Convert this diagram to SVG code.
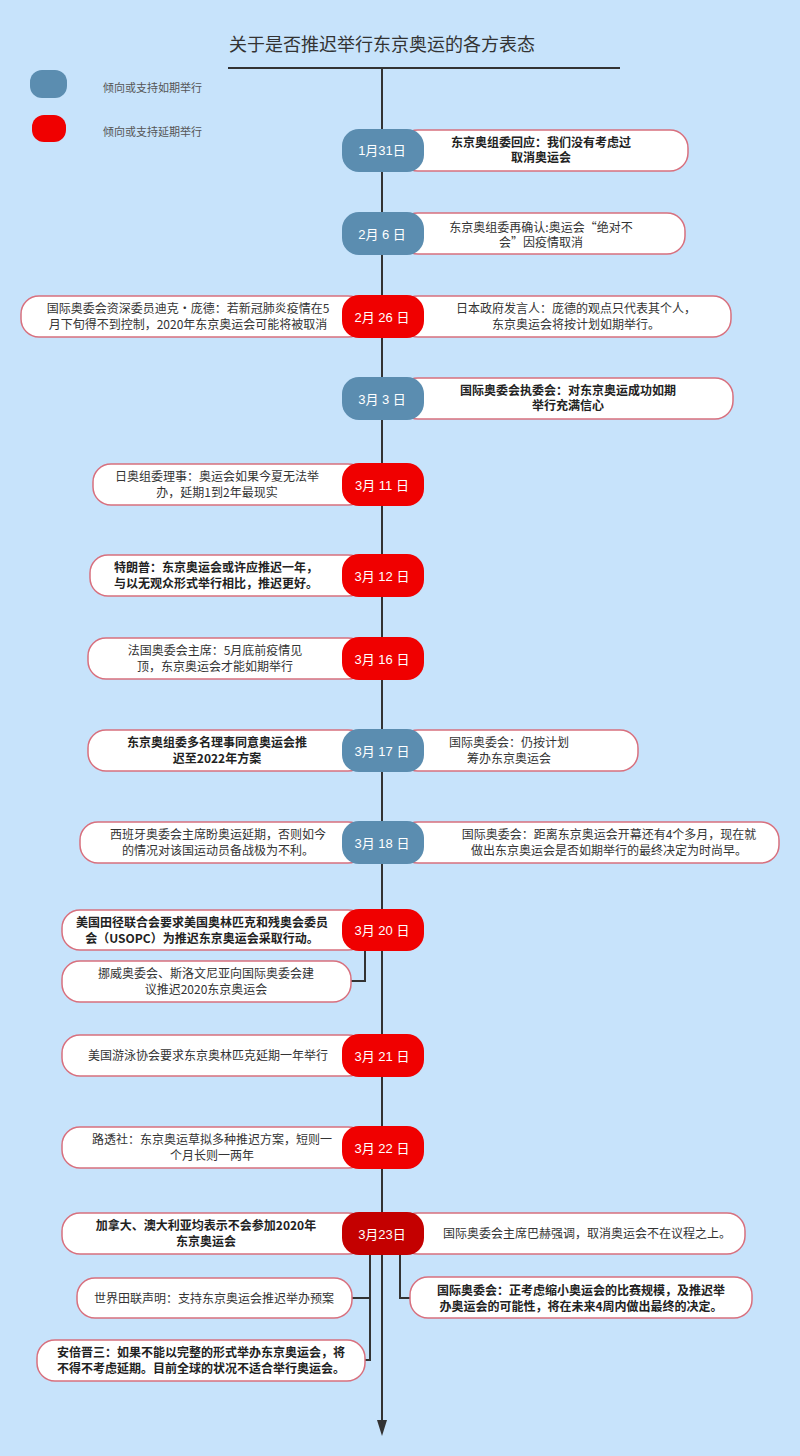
<svg xmlns="http://www.w3.org/2000/svg" width="800" height="1456" viewBox="0 0 800 1456">
<style>
text{font-family:"Noto Sans CJK SC","Liberation Sans",sans-serif;font-size:12px;fill:#333;text-anchor:middle}
.b{font-weight:bold;fill:#222}
.box{fill:#fff;stroke:#d8707e;stroke-width:1.5}
.blue{fill:#5b8db0}.red{fill:#f00000}.dred{fill:#c40000}
.d{fill:#fff;font-size:13px;font-family:"Liberation Sans","Noto Sans CJK SC",sans-serif}
.c{fill:none;stroke:#333;stroke-width:2}
.lg{text-anchor:start;font-size:11px;fill:#555}
</style>
<defs><marker id="ar" markerWidth="10" markerHeight="12" refX="5" refY="10" orient="auto" markerUnits="userSpaceOnUse"><path d="M0,0 L10,0 L5,12 Z" fill="#333" transform="rotate(0)"/></marker></defs>
<rect width="800" height="1456" fill="#c7e3fb"/>
<text x="382" y="51" style="font-size:18px;fill:#333">关于是否推迟举行东京奥运的各方表态</text>
<g id="legend">
<rect x="30" y="70" width="37" height="28" rx="12" class="blue"/><text x="103" y="92" class="lg">倾向或支持如期举行</text>
<rect x="32" y="115" width="34" height="27" rx="12" class="red"/><text x="103" y="136" class="lg">倾向或支持延期举行</text>
</g>
<g id="connectors">
<line x1="228" y1="68" x2="620" y2="68" class="c"/>
<line x1="382" y1="68" x2="382" y2="1422" class="c"/>
<path d="M377,1420 L387,1420 L382,1436 Z" fill="#333"/>
<path d="M365,950 V981 H351" class="c" stroke-width="1.5"/>
<path d="M370,1253 V1298 H352 M370,1298 V1360 H365" class="c" stroke-width="1.5"/>
<path d="M400,1253 V1298 H410" class="c" stroke-width="1.5"/>
</g>
<g id="n1"><rect x="400" y="130" width="288" height="41" rx="18" class="box"/><rect x="342" y="129" width="82" height="43" rx="17" class="blue"/><text x="382" y="155" class="d">1月31日</text><text x="541" y="147" class="b">东京奥组委回应：我们没有考虑过</text><text x="541" y="162" class="b">取消奥运会</text></g>
<g id="n2"><rect x="400" y="213" width="285" height="41" rx="18" class="box"/><rect x="342" y="212" width="82" height="43" rx="17" class="blue"/><text x="382" y="239" class="d">2月  6  日</text><text x="541" y="232">东京奥组委再确认:奥运会“绝对不</text><text x="541" y="247">会”因疫情取消</text></g>
<g id="n3"><rect x="21" y="296" width="345" height="41" rx="18" class="box"/><rect x="400" y="296" width="331" height="41" rx="18" class="box"/><rect x="342" y="295" width="82" height="43" rx="17" class="red"/><text x="382" y="322" class="d">2月  26  日</text><text x="188" y="313">国际奥委会资深委员迪克・庞德：若新冠肺炎疫情在5</text><text x="188" y="329">月下旬得不到控制，2020年东京奥运会可能将被取消</text><text x="576" y="313">日本政府发言人：庞德的观点只代表其个人，</text><text x="576" y="329">东京奥运会将按计划如期举行。</text></g>
<g id="n4"><rect x="400" y="378" width="333" height="41" rx="18" class="box"/><rect x="342" y="377" width="82" height="43" rx="17" class="blue"/><text x="382" y="404" class="d">3月  3  日</text><text x="568" y="395" class="b">国际奥委会执委会：对东京奥运成功如期</text><text x="568" y="410" class="b">举行充满信心</text></g>
<g id="n5"><rect x="93" y="464" width="273" height="41" rx="18" class="box"/><rect x="342" y="463" width="82" height="43" rx="17" class="red"/><text x="382" y="490" class="d">3月  11  日</text><text x="217" y="481">日奥组委理事：奥运会如果今夏无法举</text><text x="217" y="497">办，延期1到2年最现实</text></g>
<g id="n6"><rect x="90" y="555" width="276" height="41" rx="18" class="box"/><rect x="342" y="554" width="82" height="43" rx="17" class="red"/><text x="382" y="581" class="d">3月  12  日</text><text x="216" y="572" class="b">特朗普：东京奥运会或许应推迟一年，</text><text x="216" y="588" class="b">与以无观众形式举行相比，推迟更好。</text></g>
<g id="n7"><rect x="88" y="638" width="278" height="41" rx="18" class="box"/><rect x="342" y="637" width="82" height="43" rx="17" class="red"/><text x="382" y="664" class="d">3月  16  日</text><text x="215" y="655">法国奥委会主席：5月底前疫情见</text><text x="215" y="671">顶，东京奥运会才能如期举行</text></g>
<g id="n8"><rect x="88" y="730" width="278" height="41" rx="18" class="box"/><rect x="400" y="730" width="238" height="41" rx="18" class="box"/><rect x="342" y="729" width="82" height="43" rx="17" class="blue"/><text x="382" y="756" class="d">3月  17  日</text><text x="217" y="747" class="b">东京奥组委多名理事同意奥运会推</text><text x="217" y="763" class="b">迟至2022年方案</text><text x="509" y="747">国际奥委会：仍按计划</text><text x="509" y="763">筹办东京奥运会</text></g>
<g id="n9"><rect x="80" y="822" width="286" height="41" rx="18" class="box"/><rect x="400" y="822" width="379" height="41" rx="18" class="box"/><rect x="342" y="821" width="82" height="43" rx="17" class="blue"/><text x="382" y="848" class="d">3月  18  日</text><text x="218" y="839">西班牙奥委会主席盼奥运延期，否则如今</text><text x="218" y="855">的情况对该国运动员备战极为不利。</text><text x="609" y="839">国际奥委会：距离东京奥运会开幕还有4个多月，现在就</text><text x="609" y="855">做出东京奥运会是否如期举行的最终决定为时尚早。</text></g>
<g id="n10"><rect x="62" y="910" width="304" height="40" rx="18" class="box"/><rect x="342" y="909" width="82" height="42" rx="17" class="red"/><text x="382" y="935" class="d">3月  20  日</text><text x="202" y="927" class="b">美国田径联合会要求美国奥林匹克和残奥会委员</text><text x="202" y="943" class="b">会（USOPC）为推迟东京奥运会采取行动。</text></g>
<g id="n10b"><rect x="62" y="961" width="289" height="41" rx="18" class="box"/><text x="206" y="978">挪威奥委会、斯洛文尼亚向国际奥委会建</text><text x="206" y="994">议推迟2020东京奥运会</text></g>
<g id="n11"><rect x="62" y="1035" width="304" height="41" rx="18" class="box"/><rect x="342" y="1034" width="82" height="43" rx="17" class="red"/><text x="382" y="1061" class="d">3月  21  日</text><text x="208" y="1060">美国游泳协会要求东京奥林匹克延期一年举行</text></g>
<g id="n12"><rect x="62" y="1127" width="304" height="41" rx="18" class="box"/><rect x="342" y="1126" width="82" height="43" rx="17" class="red"/><text x="382" y="1153" class="d">3月  22  日</text><text x="212" y="1144">路透社：东京奥运草拟多种推迟方案，短则一</text><text x="212" y="1160">个月长则一两年</text></g>
<g id="n13"><rect x="62" y="1213" width="304" height="41" rx="18" class="box"/><rect x="400" y="1213" width="345" height="41" rx="18" class="box"/><rect x="342" y="1212" width="82" height="43" rx="17" class="dred"/><text x="382" y="1239" class="d">3月23日</text><text x="206" y="1230" class="b">加拿大、澳大利亚均表示不会参加2020年</text><text x="206" y="1246" class="b">东京奥运会</text><text x="587" y="1238">国际奥委会主席巴赫强调，取消奥运会不在议程之上。</text></g>
<g id="n14"><rect x="77" y="1278" width="275" height="40" rx="18" class="box"/><text x="214" y="1303">世界田联声明：支持东京奥运会推迟举办预案</text></g>
<g id="n15"><rect x="410" y="1277" width="342" height="41" rx="18" class="box"/><text x="581" y="1295" class="b">国际奥委会：正考虑缩小奥运会的比赛规模，及推迟举</text><text x="581" y="1311" class="b">办奥运会的可能性，将在未来4周内做出最终的决定。</text></g>
<g id="n16"><rect x="37" y="1340" width="328" height="41" rx="18" class="box"/><text x="201" y="1357" class="b">安倍晋三：如果不能以完整的形式举办东京奥运会，将</text><text x="201" y="1373" class="b">不得不考虑延期。目前全球的状况不适合举行奥运会。</text></g>
</svg>
